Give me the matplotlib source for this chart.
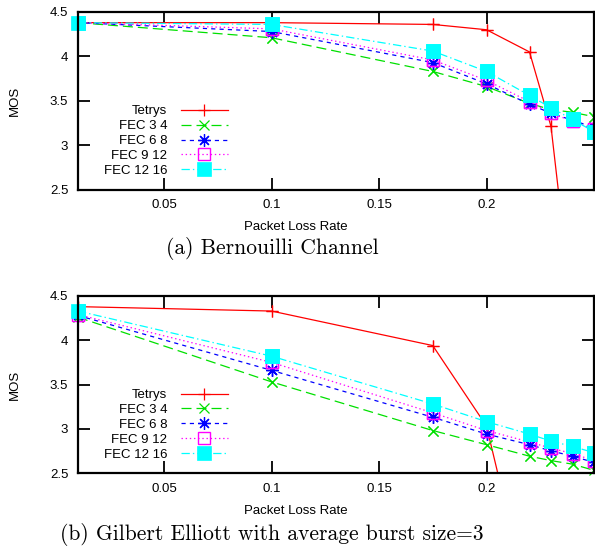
import matplotlib
matplotlib.use("Agg")
import matplotlib.pyplot as plt
from matplotlib.ticker import FormatStrFormatter
import numpy as np

plt.rcParams["font.family"] = ["Liberation Sans", "DejaVu Sans"]
plt.rcParams["lines.scale_dashes"] = False

LOSS = [0.01, 0.1, 0.175, 0.2, 0.22, 0.23, 0.24, 0.25]
SERIES = ["Tetrys", "FEC 3 4", "FEC 6 8", "FEC 9 12", "FEC 12 16"]

# (a) Bernouilli channel
BER_TETRYS = [4.38, 4.38, 4.36, 4.30, 4.05, 3.21, 1.1, 1.0]
BER_FEC34 = [4.38, 4.21, 3.83, 3.66, 3.47, 3.40, 3.37, 3.32]
BER_FEC68 = [4.38, 4.28, 3.93, 3.69, 3.46, 3.36, 3.28, 3.20]
BER_FEC912 = [4.38, 4.31, 3.96, 3.73, 3.49, 3.36, 3.27, 3.18]
BER_FEC1216 = [4.38, 4.36, 4.06, 3.83, 3.56, 3.42, 3.29, 3.15]

# (b) Gilbert Elliott, average burst size 3
GE_TETRYS = [4.38, 4.33, 3.94, 3.03, 1.0, 1.0, 1.0, 1.0]
GE_FEC34 = [4.26, 3.53, 2.98, 2.82, 2.69, 2.64, 2.60, 2.53]
GE_FEC68 = [4.28, 3.66, 3.13, 2.94, 2.82, 2.75, 2.69, 2.62]
GE_FEC912 = [4.29, 3.75, 3.18, 2.98, 2.85, 2.78, 2.72, 2.64]
GE_FEC1216 = [4.33, 3.82, 3.28, 3.08, 2.94, 2.86, 2.80, 2.73]

CAPTION_A = "(a) Bernouilli Channel"
CAPTION_B = "(b) Gilbert Elliott with average burst size=3"

STYLE = {
    "Tetrys": dict(color="#ff0000", dashes=(), marker="+", ms=8.5, mew=0.9, mfc="none"),
    "FEC 3 4": dict(color="#00e000", dashes=(7.2, 3.6), marker="x", ms=7.5, mew=0.9, mfc="none"),
    "FEC 6 8": dict(color="#0000ff", dashes=(3.0, 3.0), marker=(8, 2, 0), ms=9, mew=0.9, mfc="none"),
    "FEC 9 12": dict(color="#ff00ff", dashes=(1.0, 2.0), marker="s", ms=9, mew=1.0, mfc="none"),
    "FEC 12 16": dict(color="#00ffff", dashes=(6.0, 2.2, 1.0, 2.2), marker="s", ms=9.5, mew=0.5, mfc="#00ffff"),
}

FS = 9.5
W, H = 595, 549


def draw(ax, values):
    for name, y in zip(SERIES, values):
        st = STYLE[name]
        y = np.asarray(y)
        x = np.asarray(LOSS)
        line, = ax.plot(x, y, lw=0.9, color=st["color"], marker=st["marker"],
                        ms=st["ms"], mew=st["mew"], mfc=st["mfc"], mec=st["color"],
                        label=name)
        if st["dashes"]:
            line.set_dashes(st["dashes"])
        vis = y >= 2.5
        ax.plot(x[vis], y[vis], ls="none", marker=st["marker"], ms=st["ms"],
                mew=st["mew"], mfc=st["mfc"], mec=st["color"], clip_on=False)

    ax.set_xlim(0.01, 0.25)
    ax.set_ylim(2.5, 4.5)
    ax.set_xticks([0.05, 0.1, 0.15, 0.2])
    ax.set_yticks([2.5, 3, 3.5, 4, 4.5])
    ax.xaxis.set_major_formatter(FormatStrFormatter("%g"))
    ax.yaxis.set_major_formatter(FormatStrFormatter("%g"))
    ax.tick_params(direction="in", length=8.5, width=1.3, top=True, right=True,
                   labelsize=FS, pad=7)
    for sp in ax.spines.values():
        sp.set_linewidth(1.6)
    ax.set_xlabel("Packet Loss Rate", fontsize=FS)
    ax.xaxis.set_label_coords(0.4225, -0.18)
    ax.set_ylabel("MOS", fontsize=FS)
    ax.yaxis.set_label_coords(-0.11, 0.5)
    ax.legend(loc="upper right", bbox_to_anchor=(0.291, 0.475), frameon=False,
              markerfirst=False, fontsize=FS, handlelength=3.6, handletextpad=1.0,
              labelspacing=0.2, borderpad=0, borderaxespad=0, numpoints=1)


fig = plt.figure(figsize=(W / 100, H / 100), dpi=100)
ax_a = fig.add_axes([78 / W, 1 - 189.5 / H, 516 / W, 177.5 / H])
ax_b = fig.add_axes([78 / W, 1 - 473 / H, 516 / W, 177 / H])

draw(ax_a, [BER_TETRYS, BER_FEC34, BER_FEC68, BER_FEC912, BER_FEC1216])
draw(ax_b, [GE_TETRYS, GE_FEC34, GE_FEC68, GE_FEC912, GE_FEC1216])

fig.text(272 / W, 1 - 248 / H, CAPTION_A, ha="center", va="center",
         family="cmr10", fontsize=15.5)
fig.text(272 / W, 1 - 535 / H, CAPTION_B, ha="center", va="center",
         family="cmr10", fontsize=15.5)

fig.savefig("out.png", dpi=100, facecolor="white")
